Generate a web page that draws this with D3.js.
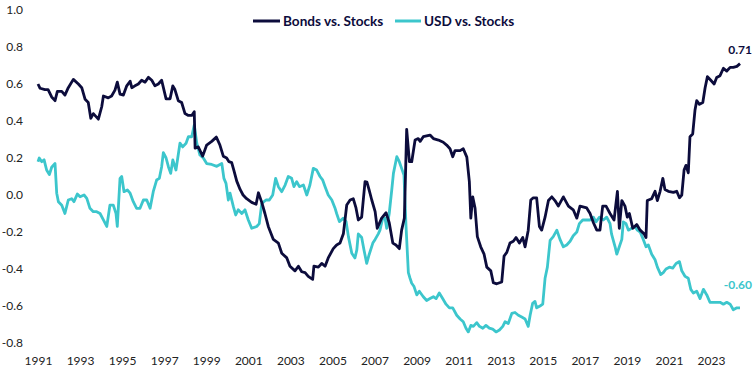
<!DOCTYPE html>
<html>
<head>
<meta charset="utf-8">
<script src="https://cdn.jsdelivr.net/npm/d3@7"></script>
<style>
  html, body { margin: 0; padding: 0; background: #ffffff; }
  svg { display: block; font-family: Lato, "Open Sans", sans-serif; }
</style>
</head>
<body>
<svg id="chart" width="754" height="372"></svg>
<script>
// ---- DATA ----
const seriesNames = ["Bonds vs. Stocks", "USD vs. Stocks"];
const xTickYears = [1991,1993,1995,1997,1999,2001,2003,2005,2007,2009,2011,2013,2015,2017,2019,2021,2023];
const yTickValues = [-0.8,-0.6,-0.4,-0.2,0.0,0.2,0.4,0.6,0.8,1.0];
const endLabels = ["0.71", "-0.60"];

const bondsSeries = [
[1991.00,0.60],[1991.10,0.577],[1991.33,0.57],[1991.48,0.57],[1991.65,0.53],[1991.81,0.51],[1991.92,0.56],
[1992.13,0.56],[1992.28,0.54],[1992.44,0.58],[1992.68,0.625],[1992.92,0.60],[1993.08,0.58],[1993.24,0.517],
[1993.39,0.50],[1993.51,0.415],[1993.63,0.44],[1993.87,0.41],[1994.03,0.477],[1994.11,0.535],[1994.34,0.525],
[1994.50,0.535],[1994.66,0.567],[1994.77,0.61],[1994.90,0.545],[1995.06,0.54],[1995.22,0.59],[1995.38,0.615],
[1995.46,0.58],[1995.61,0.59],[1995.77,0.60],[1995.93,0.62],[1996.09,0.61],[1996.25,0.636],[1996.41,0.62],
[1996.56,0.59],[1996.72,0.60],[1996.88,0.62],[1997.09,0.52],[1997.28,0.52],[1997.41,0.59],[1997.51,0.57],
[1997.67,0.51],[1997.83,0.50],[1997.99,0.44],[1998.15,0.43],[1998.31,0.43],[1998.43,0.45],[1998.47,0.253],
[1998.62,0.26],[1998.83,0.21],[1999.02,0.27],[1999.26,0.29],[1999.48,0.313],[1999.65,0.27],[1999.81,0.21],
[1999.97,0.20],[2000.08,0.18],[2000.21,0.175],[2000.32,0.13],[2000.45,0.075],[2000.61,0.03],[2000.75,0.0],
[2000.92,-0.02],[2001.16,-0.04],[2001.37,-0.05],[2001.48,0.012],[2001.64,-0.04],[2001.79,-0.10],[2001.95,-0.17],
[2002.19,-0.24],[2002.43,-0.26],[2002.59,-0.315],[2002.83,-0.34],[2002.98,-0.385],[2003.22,-0.41],[2003.38,-0.385],
[2003.54,-0.415],[2003.70,-0.42],[2003.85,-0.44],[2004.06,-0.456],[2004.12,-0.385],[2004.33,-0.39],[2004.49,-0.37],
[2004.65,-0.385],[2004.80,-0.34],[2005.04,-0.29],[2005.20,-0.27],[2005.36,-0.26],[2005.52,-0.21],[2005.68,-0.054],
[2005.84,-0.027],[2005.99,-0.02],[2006.12,-0.07],[2006.23,-0.135],[2006.39,-0.12],[2006.55,0.072],[2006.64,0.07],
[2006.75,0.025],[2006.87,-0.027],[2007.03,-0.09],[2007.13,-0.18],[2007.34,-0.125],[2007.55,-0.096],[2007.70,-0.15],
[2007.87,-0.26],[2008.02,-0.27],[2008.18,-0.29],[2008.29,-0.19],[2008.42,-0.125],[2008.53,0.355],[2008.66,0.18],
[2008.77,0.18],[2008.93,0.297],[2009.08,0.305],[2009.17,0.29],[2009.32,0.315],[2009.64,0.324],[2009.80,0.305],
[2010.04,0.297],[2010.27,0.285],[2010.43,0.27],[2010.59,0.25],[2010.72,0.207],[2010.83,0.24],[2011.07,0.24],
[2011.22,0.25],[2011.39,0.205],[2011.51,0.072],[2011.58,-0.125],[2011.67,-0.01],[2011.78,-0.07],[2011.89,-0.225],
[2012.05,-0.28],[2012.21,-0.32],[2012.34,-0.39],[2012.53,-0.41],[2012.65,-0.474],[2012.81,-0.48],[2013.05,-0.47],
[2013.16,-0.33],[2013.29,-0.31],[2013.44,-0.26],[2013.60,-0.25],[2013.73,-0.23],[2013.89,-0.26],[2014.05,-0.23],
[2014.16,-0.28],[2014.31,-0.19],[2014.43,-0.027],[2014.55,-0.015],[2014.71,-0.015],[2014.84,-0.17],[2014.95,-0.19],
[2015.11,-0.12],[2015.27,-0.03],[2015.43,-0.01],[2015.58,-0.03],[2015.74,-0.06],[2015.98,-0.01],[2016.22,-0.06],
[2016.45,-0.08],[2016.62,-0.125],[2016.77,-0.06],[2017.09,-0.07],[2017.25,-0.10],[2017.41,-0.15],[2017.57,-0.19],
[2017.72,-0.19],[2017.85,-0.06],[2018.01,-0.06],[2018.20,-0.10],[2018.39,-0.135],[2018.55,0.02],[2018.64,-0.18],
[2018.76,-0.03],[2018.91,-0.06],[2019.02,-0.12],[2019.12,-0.10],[2019.28,-0.18],[2019.47,-0.16],[2019.63,-0.19],
[2019.82,-0.21],[2019.91,-0.23],[2019.97,-0.03],[2020.18,-0.02],[2020.34,0.02],[2020.45,-0.03],[2020.58,0.02],
[2020.71,0.09],[2020.81,0.03],[2020.97,0.02],[2021.21,0.014],[2021.37,0.02],[2021.50,-0.015],[2021.61,0.0],
[2021.72,0.135],[2021.81,0.16],[2021.92,0.12],[2022.00,0.315],[2022.13,0.33],[2022.24,0.46],[2022.32,0.51],
[2022.45,0.49],[2022.61,0.50],[2022.72,0.58],[2022.83,0.64],[2022.99,0.62],[2023.15,0.60],[2023.27,0.635],
[2023.43,0.645],[2023.59,0.685],[2023.75,0.67],[2023.91,0.69],[2024.06,0.69],[2024.23,0.695],[2024.38,0.71]
];

const usdSeries = [
[1991.00,0.18],[1991.06,0.20],[1991.18,0.18],[1991.29,0.19],[1991.41,0.135],[1991.54,0.11],[1991.65,0.15],
[1991.81,0.17],[1991.89,0.01],[1991.97,-0.036],[1992.13,-0.055],[1992.28,-0.10],[1992.44,-0.027],[1992.60,-0.02],
[1992.71,-0.036],[1992.87,0.005],[1993.00,-0.01],[1993.19,0.0],[1993.32,-0.018],[1993.47,-0.072],[1993.63,-0.09],
[1993.79,-0.09],[1993.95,-0.10],[1994.11,-0.135],[1994.27,-0.17],[1994.42,-0.055],[1994.58,-0.055],[1994.71,-0.10],
[1994.77,-0.17],[1994.90,0.09],[1994.98,0.10],[1995.09,0.018],[1995.25,0.027],[1995.38,0.01],[1995.53,-0.036],
[1995.69,-0.072],[1995.85,-0.072],[1996.01,-0.027],[1996.17,-0.027],[1996.33,-0.072],[1996.48,0.018],[1996.64,0.081],
[1996.77,0.09],[1996.88,0.153],[1996.96,0.229],[1997.09,0.20],[1997.20,0.153],[1997.31,0.117],[1997.41,0.19],
[1997.56,0.135],[1997.75,0.28],[1997.88,0.26],[1998.04,0.28],[1998.15,0.315],[1998.31,0.315],[1998.43,0.378],
[1998.55,0.28],[1998.70,0.216],[1998.86,0.20],[1999.02,0.17],[1999.26,0.165],[1999.50,0.155],[1999.74,0.17],
[1999.84,0.09],[1999.94,0.063],[2000.05,-0.027],[2000.13,0.01],[2000.29,-0.063],[2000.40,-0.108],[2000.52,-0.08],
[2000.69,-0.10],[2000.84,-0.08],[2001.00,-0.135],[2001.16,-0.18],[2001.40,-0.17],[2001.52,-0.155],[2001.64,-0.045],
[2001.84,-0.027],[2002.00,-0.027],[2002.16,0.0],[2002.30,0.09],[2002.43,0.045],[2002.59,0.018],[2002.75,0.054],
[2002.90,0.10],[2003.06,0.09],[2003.17,0.045],[2003.30,0.072],[2003.43,0.045],[2003.62,0.054],[2003.78,0.0],
[2003.93,0.054],[2004.09,0.144],[2004.25,0.135],[2004.41,0.10],[2004.54,0.08],[2004.65,0.045],[2004.80,0.0],
[2004.97,-0.027],[2005.12,-0.07],[2005.20,-0.10],[2005.33,-0.144],[2005.52,-0.125],[2005.65,-0.144],[2005.76,-0.225],
[2005.92,-0.315],[2006.07,-0.34],[2006.16,-0.297],[2006.23,-0.21],[2006.39,-0.23],[2006.50,-0.297],[2006.63,-0.37],
[2006.75,-0.32],[2006.92,-0.26],[2007.03,-0.24],[2007.18,-0.21],[2007.26,-0.19],[2007.39,-0.125],[2007.50,-0.125],
[2007.58,-0.18],[2007.70,-0.10],[2007.82,0.027],[2007.90,0.117],[2008.06,0.207],[2008.18,0.18],[2008.29,0.144],
[2008.40,0.108],[2008.50,-0.17],[2008.61,-0.42],[2008.69,-0.45],[2008.77,-0.477],[2008.88,-0.495],[2009.01,-0.54],
[2009.13,-0.52],[2009.32,-0.55],[2009.48,-0.57],[2009.64,-0.56],[2009.80,-0.55],[2009.93,-0.56],[2010.08,-0.53],
[2010.24,-0.56],[2010.40,-0.59],[2010.56,-0.61],[2010.72,-0.61],[2010.91,-0.65],[2011.07,-0.67],[2011.22,-0.685],
[2011.35,-0.72],[2011.46,-0.74],[2011.58,-0.705],[2011.70,-0.71],[2011.86,-0.69],[2011.99,-0.71],[2012.15,-0.72],
[2012.30,-0.705],[2012.46,-0.72],[2012.62,-0.725],[2012.78,-0.74],[2012.94,-0.73],[2013.10,-0.71],[2013.21,-0.685],
[2013.36,-0.695],[2013.53,-0.64],[2013.68,-0.635],[2013.84,-0.65],[2014.00,-0.66],[2014.16,-0.67],[2014.31,-0.71],
[2014.40,-0.65],[2014.52,-0.585],[2014.63,-0.575],[2014.71,-0.61],[2014.87,-0.60],[2015.00,-0.59],[2015.11,-0.45],
[2015.22,-0.39],[2015.35,-0.245],[2015.50,-0.225],[2015.67,-0.19],[2015.82,-0.24],[2015.98,-0.28],[2016.14,-0.27],
[2016.30,-0.25],[2016.45,-0.22],[2016.62,-0.20],[2016.74,-0.155],[2016.90,-0.135],[2017.09,-0.135],[2017.25,-0.135],
[2017.41,-0.12],[2017.53,-0.145],[2017.69,-0.12],[2017.88,-0.135],[2018.04,-0.12],[2018.20,-0.155],[2018.27,-0.21],
[2018.44,-0.28],[2018.52,-0.32],[2018.64,-0.28],[2018.76,-0.24],[2018.83,-0.145],[2018.96,-0.155],[2019.07,-0.19],
[2019.23,-0.18],[2019.39,-0.17],[2019.50,-0.19],[2019.63,-0.20],[2019.78,-0.24],[2019.91,-0.28],[2020.02,-0.27],
[2020.18,-0.32],[2020.34,-0.35],[2020.45,-0.39],[2020.61,-0.43],[2020.73,-0.42],[2020.86,-0.40],[2021.02,-0.39],
[2021.18,-0.395],[2021.34,-0.37],[2021.50,-0.36],[2021.61,-0.41],[2021.77,-0.44],[2021.92,-0.45],[2022.04,-0.51],
[2022.16,-0.53],[2022.32,-0.52],[2022.48,-0.56],[2022.64,-0.51],[2022.80,-0.54],[2022.95,-0.58],[2023.11,-0.58],
[2023.27,-0.58],[2023.43,-0.58],[2023.59,-0.59],[2023.75,-0.58],[2023.91,-0.59],[2024.06,-0.62],[2024.23,-0.61],
[2024.38,-0.61]
];

// ---- STYLE ----
const colors = ["#0c0c3c", "#3cc6cc"];
const textColor = "#222222";

// ---- CHART ----
const svg = d3.select("#chart");
const x = d3.scaleLinear().domain([1991, 2023]).range([38, 711]);
const y = d3.scaleLinear().domain([-0.8, 1.0]).range([343, 10]);

// Y axis
const yAxis = svg.append("g")
  .attr("transform", "translate(23,0)")
  .call(d3.axisLeft(y).tickValues(yTickValues).tickSize(0).tickPadding(0)
    .tickFormat(d => d.toFixed(1)));
yAxis.select(".domain").remove();
yAxis.selectAll("text").attr("fill", textColor).style("font-size", "12px")
  .style("font-family", "Lato, sans-serif");

// X axis
const xAxis = svg.append("g")
  .attr("transform", "translate(0,356)")
  .call(d3.axisBottom(x).tickValues(xTickYears).tickSize(0).tickPadding(0)
    .tickFormat(d => String(d)));
xAxis.select(".domain").remove();
xAxis.selectAll("text").attr("fill", textColor).style("font-size", "12px")
  .style("font-family", "Lato, sans-serif");

// Lines
const line = d3.line().x(d => x(d[0])).y(d => y(d[1]));
const allSeries = [bondsSeries, usdSeries];
[1, 0].forEach(i => {
  svg.append("path")
    .datum(allSeries[i])
    .attr("fill", "none")
    .attr("stroke", colors[i])
    .attr("stroke-width", 2.8)
    .attr("stroke-linejoin", "round")
    .attr("d", line);
});

// End labels
allSeries.forEach((s, i) => {
  const last = s[s.length - 1];
  svg.append("text")
    .attr("x", x(last[0]) + 12)
    .attr("y", y(last[1]) + (i === 0 ? -10 : -19))
    .attr("text-anchor", "end")
    .attr("fill", colors[i])
    .style("font-size", "12px")
    .style("font-weight", "bold")
    .text(endLabels[i]);
});

// Legend
const legendItems = [
  {x0: 253, x1: 280, tx: 283},
  {x0: 395, x1: 421, tx: 424}
];
legendItems.forEach((it, i) => {
  svg.append("line")
    .attr("x1", it.x0).attr("x2", it.x1)
    .attr("y1", 21).attr("y2", 21)
    .attr("stroke", colors[i]).attr("stroke-width", 3);
  svg.append("text")
    .attr("x", it.tx).attr("y", 25.5)
    .attr("fill", "#0c0c3c")
    .style("font-size", "13.6px")
    .style("font-weight", "bold")
    .text(seriesNames[i]);
});
</script>
</body>
</html>
